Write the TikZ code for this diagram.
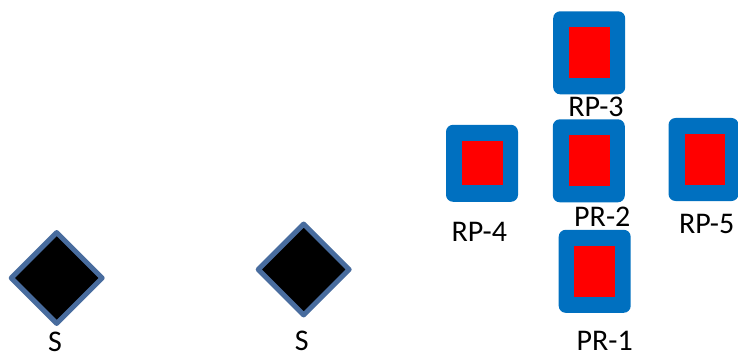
\documentclass[tikz,border=0pt]{standalone}
\usepackage{fontspec}
\setmainfont{Carlito}
\usepackage{tikz}
\usetikzlibrary{shapes,positioning}
\definecolor{rpblue}{RGB}{0,112,192}
\definecolor{rpred}{RGB}{255,0,0}
\definecolor{sborder}{RGB}{72,108,158}
\tikzstyle{rpbox} = [rectangle, rounded corners=7pt, minimum width=72pt, minimum height=83pt, fill=rpblue, inner sep=0pt]
\tikzstyle{rpcore} = [rectangle, minimum width=41pt, minimum height=51pt, fill=rpred, inner sep=0pt]
\tikzstyle{sensor} = [diamond, minimum size=93pt, fill=black, draw=sborder, line width=5pt, line join=round, inner sep=0pt]
\tikzstyle{rplabel} = [anchor=base, inner sep=0pt, font=\fontsize{30}{32}\selectfont]

\begin{document}
\begin{tikzpicture}[x=1pt, y=-1pt]
\useasboundingbox (0,0) rectangle (738,358);

% Sensors
\node[sensor] (s1) at (56.7,278) {};
\node[sensor] (s2) at (303.7,269.5) {};
\node[rplabel] (s1lbl) at (55,351) {S};
\node[rplabel] (s2lbl) at (301.7,350) {S};

% Reference points
\node[rpbox] (rp3) at (589.2,52.8) {};
\node[rpcore] (rp3core) at (589.7,52.8) {};
\node[rpbox] (pr2) at (588.8,160.8) {};
\node[rpcore] (pr2core) at (589,160.8) {};
\node[rpbox, minimum height=77pt] (rp4) at (482,163.3) {};
\node[rpcore, minimum height=44pt] (rp4core) at (482.2,162.8) {};
\node[rpbox, minimum width=70pt] (rp5) at (703.5,159.5) {};
\node[rpcore, minimum width=40pt] (rp5core) at (705,159.2) {};
\node[rpbox] (pr1) at (594.7,271.3) {};
\node[rpcore] (pr1core) at (594.5,271.2) {};

% Labels
\node[rplabel] (rp3lbl) at (596,116.5) {RP-3};
\node[rplabel] (pr2lbl) at (602.3,226.5) {PR-2};
\node[rplabel] (rp4lbl) at (479.3,241) {RP-4};
\node[rplabel] (rp5lbl) at (706.7,233.3) {RP-5};
\node[rplabel] (pr1lbl) at (604.7,350) {PR-1};
\end{tikzpicture}
\end{document}
